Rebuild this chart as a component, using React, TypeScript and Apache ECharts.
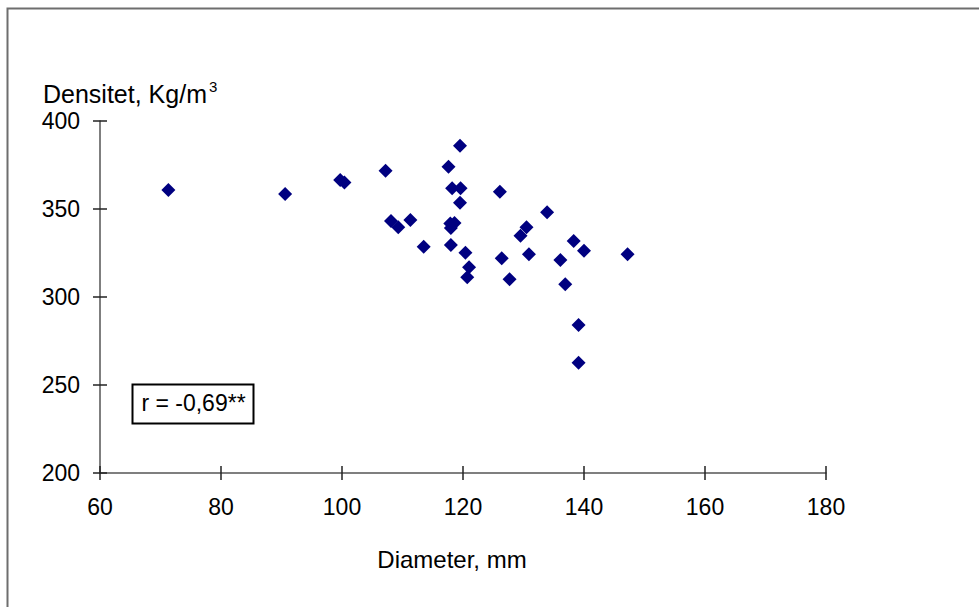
import React, { useEffect, useRef } from "react";
import * as echarts from "echarts";

// Diameter (mm) and density (kg/m3) readings
const diameter = [
  71.3, 90.6, 99.7, 100.4, 107.2, 108.1, 109.3, 111.3, 113.5, 117.6,
  117.9, 118.6, 118.0, 118.0, 118.2, 119.6, 119.5, 119.5, 120.4, 120.7,
  121.0, 126.1, 126.4, 127.7, 129.5, 130.5, 130.9, 133.9, 136.1, 136.9,
  138.3, 139.1, 139.1, 140.0, 147.2,
];
const density = [
  360.8, 358.5, 366.5, 365.0, 371.8, 343.2, 339.6, 343.8, 328.6, 374.0,
  341.8, 342.0, 339.2, 329.5, 361.8, 361.8, 386.0, 353.6, 325.2, 311.2,
  316.9, 359.8, 322.0, 310.1, 334.8, 339.6, 324.3, 348.1, 321.0, 307.2,
  331.8, 284.1, 262.7, 326.3, 324.3,
];

const xMin = 60;
const xMax = 180;
const xStep = 20;
const yMin = 200;
const yMax = 400;
const yStep = 50;

const yTitle = "Densitet, Kg/m";
const yTitleSup = "3";
const xTitle = "Diameter, mm";
const rLabel = "r = -0,69**";

export default function App() {
  const ref = useRef<HTMLDivElement>(null);

  useEffect(() => {
    const chart = echarts.init(ref.current!, null, { renderer: "svg" });
    const font = "'Liberation Sans', Arial, sans-serif";
    const lineCol = "#555555";
    const tickCol = "#222222";

    const xBase = {
      type: "value",
      min: xMin,
      max: xMax,
      interval: xStep,
      position: "bottom",
      splitLine: { show: false },
    };
    const yBase = {
      type: "value",
      min: yMin,
      max: yMax,
      interval: yStep,
      position: "left",
      splitLine: { show: false },
    };

    chart.setOption({
      animation: false,
      backgroundColor: "#ffffff",
      grid: { left: 100, right: 153, top: 121, bottom: 134, containLabel: false },
      xAxis: [
        {
          ...xBase,
          axisLine: { show: true, onZero: false, lineStyle: { color: lineCol, width: 1.5 } },
          axisTick: { show: true, inside: false, length: 7, lineStyle: { color: tickCol, width: 1.5 } },
          axisLabel: { margin: 22, fontSize: 23, color: "#000", fontFamily: font },
        },
        {
          ...xBase,
          axisLine: { show: false, onZero: false },
          axisTick: { show: true, inside: true, length: 7, lineStyle: { color: tickCol, width: 1.5 } },
          axisLabel: { show: false },
        },
      ],
      yAxis: [
        {
          ...yBase,
          axisLine: { show: true, onZero: false, lineStyle: { color: lineCol, width: 1.5 } },
          axisTick: { show: true, inside: false, length: 7, lineStyle: { color: tickCol, width: 1.5 } },
          axisLabel: { margin: 20, fontSize: 23, color: "#000", fontFamily: font },
        },
        {
          ...yBase,
          axisLine: { show: false, onZero: false },
          axisTick: { show: true, inside: true, length: 7, lineStyle: { color: tickCol, width: 1.5 } },
          axisLabel: { show: false },
        },
      ],
      series: [
        {
          type: "scatter",
          xAxisIndex: 0,
          yAxisIndex: 0,
          symbol: "diamond",
          symbolSize: 14,
          itemStyle: { color: "#000080", opacity: 1 },
          data: diameter.map((d, i) => [d, density[i]]),
        },
      ],
      graphic: [
        {
          type: "rect",
          shape: { x: 7.5, y: 8.5, width: 1100, height: 800 },
          style: { fill: "none", stroke: "#6e6e6e", lineWidth: 2 },
          silent: true,
        },
        {
          type: "text",
          x: 43,
          y: 94,
          style: {
            text: yTitle,
            fontSize: 25,
            fontFamily: font,
            fill: "#000",
            textAlign: "left",
            verticalAlign: "middle",
          },
        },
        {
          type: "text",
          x: 209,
          y: 86,
          style: {
            text: yTitleSup,
            fontSize: 15,
            fontFamily: font,
            fill: "#000",
            textAlign: "left",
            verticalAlign: "middle",
          },
        },
        {
          type: "text",
          x: 452,
          y: 559,
          style: {
            text: xTitle,
            fontSize: 24,
            fontFamily: font,
            fill: "#000",
            textAlign: "center",
            verticalAlign: "middle",
          },
        },
        {
          type: "rect",
          shape: { x: 132.5, y: 384.5, width: 121, height: 39 },
          style: { fill: "#fff", stroke: "#000", lineWidth: 2 },
        },
        {
          type: "text",
          x: 193.5,
          y: 403,
          style: {
            text: rLabel,
            fontSize: 23,
            fontFamily: font,
            fill: "#000",
            textAlign: "center",
            verticalAlign: "middle",
          },
        },
      ],
    });

    return () => chart.dispose();
  }, []);

  return (
    <div
      ref={ref}
      style={{ position: "fixed", left: 0, top: 0, width: 979, height: 607, background: "#fff" }}
    />
  );
}
